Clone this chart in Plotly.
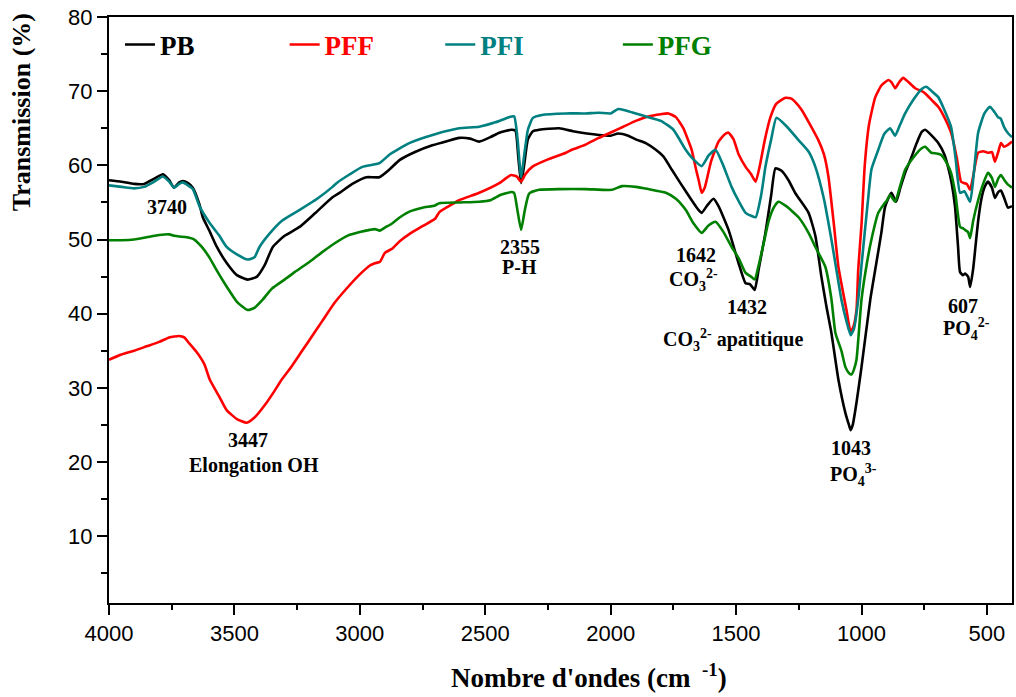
import plotly.graph_objects as go

# ---- FTIR spectra: wavenumber (cm-1) and transmission (%) ----
pb_wn = [4000, 3950, 3900, 3860, 3820, 3785, 3760, 3741, 3720, 3706, 3685, 3666, 3640, 3626,
         3600, 3570, 3530, 3490, 3447, 3410, 3380, 3347, 3300, 3240, 3180, 3109, 3081, 3030,
         2974, 2922, 2880, 2842, 2780, 2711, 2650, 2604, 2560, 2524, 2480, 2444, 2397, 2380,
         2368, 2357, 2345, 2330, 2310, 2285, 2206, 2150, 2115, 2047, 2000, 1970, 1930, 1900,
         1860, 1820, 1790, 1756, 1720, 1677, 1650, 1637, 1615, 1590, 1570, 1530, 1490, 1462,
         1445, 1426, 1410, 1383, 1360, 1343, 1320, 1291, 1263, 1211, 1184, 1160, 1140, 1120,
         1092, 1064, 1050, 1043, 1035, 1020, 1000, 965, 940, 921, 906, 881, 862, 845, 826,
         802, 780, 760, 746, 720, 694, 670, 655, 640, 627, 615, 607, 595, 587, 575, 567, 555,
         547, 535, 523, 510, 496, 480, 468, 455, 444, 430, 416, 400]
pb_t = [58.0, 57.8, 57.5, 57.5, 58.2, 58.8, 58.0, 57.0, 57.7, 57.9, 57.6, 57.0, 54.8, 53.0,
        51.2, 49.0, 46.8, 45.2, 44.6, 45.0, 46.5, 49.0, 50.5, 51.7, 53.5, 55.7, 56.3, 57.5,
        58.4, 58.4, 59.5, 60.7, 61.8, 62.7, 63.3, 63.7, 63.6, 63.2, 63.8, 64.4, 64.8, 64.7,
        61.0, 57.6, 60.0, 63.5, 64.6, 64.8, 65.0, 64.6, 64.4, 64.1, 64.0, 64.3, 64.0, 63.5,
        63.0, 62.1, 61.2, 59.4, 57.5, 55.3, 54.0, 53.6, 54.6, 55.5, 54.5, 51.3, 46.8, 44.1,
        44.0, 43.2, 46.0, 50.9, 56.0, 59.6, 59.3, 58.0, 56.2, 53.6, 50.5, 45.0, 41.0, 37.4,
        31.1, 26.6, 25.0, 24.3, 25.0, 28.0, 32.8, 41.9, 47.0, 50.9, 54.4, 56.3, 55.1, 57.0, 59.0,
        61.0, 63.0, 64.5, 64.8, 64.0, 63.0, 61.5, 59.8, 57.5, 54.4, 49.0, 45.6, 45.2, 45.4, 45.0,
        43.6, 46.0, 48.6, 52.5, 55.3, 57.0, 57.8, 57.0, 55.6, 56.4, 56.6, 55.5, 54.3, 54.5]

pff_wn = [4000, 3950, 3900, 3850, 3800, 3760, 3720, 3700, 3680, 3650, 3620, 3598, 3560, 3531,
          3490, 3451, 3420, 3372, 3340, 3312, 3270, 3230, 3200, 3150, 3100, 3050, 3000, 2960,
          2940, 2920, 2900, 2870, 2840, 2800, 2750, 2700, 2683, 2650, 2604, 2524, 2444, 2397,
          2375, 2357, 2340, 2313, 2250, 2178, 2155, 2100, 2047, 1995, 1950, 1900, 1850, 1800,
          1770, 1740, 1710, 1690, 1677, 1660, 1649, 1637, 1625, 1600, 1570, 1545, 1530, 1510,
          1490, 1462, 1440, 1422, 1405, 1385, 1363, 1340, 1303, 1280, 1260, 1239, 1210, 1172,
          1150, 1132, 1110, 1092, 1060, 1043, 1030, 1020, 1013, 1000, 987, 970, 945, 920, 893,
          880, 866, 850, 834, 815, 786, 760, 746, 720, 694, 670, 643, 620, 603, 590, 580, 567,
          555, 535, 515, 496, 480, 468, 455, 444, 432, 415, 400]
pff_t = [33.8, 34.5, 35.0, 35.6, 36.2, 36.8, 37.0, 36.8, 36.0, 34.8, 33.2, 31.1, 28.8, 27.0,
         25.8, 25.3, 26.0, 28.0, 29.6, 31.1, 33.0, 35.0, 36.5, 39.0, 41.5, 43.5, 45.3, 46.5,
         46.8, 47.0, 48.2, 48.8, 49.8, 50.8, 51.8, 52.8, 53.7, 54.4, 55.3, 56.3, 57.6, 58.7,
         58.5, 57.8, 58.8, 59.8, 60.8, 61.7, 62.1, 62.8, 63.7, 64.5, 65.2, 66.0, 66.6, 66.9,
         67.0, 66.5, 65.0, 63.3, 62.1, 59.5, 58.0, 56.3, 57.0, 60.5, 63.2, 64.2, 64.4, 63.5,
         61.5, 59.8, 58.8, 57.8, 60.0, 63.5, 66.5, 68.3, 69.1, 69.0, 68.4, 67.5, 65.8, 63.4,
         61.5, 58.5, 52.0, 46.3, 40.5, 37.5, 38.5, 40.5, 46.0, 52.0, 60.0, 65.5, 69.2, 70.8, 71.5,
         71.2, 70.4, 71.2, 71.8, 71.3, 70.4, 70.0, 69.7, 68.8, 67.9, 66.5, 64.4, 61.0, 57.8, 57.6,
         57.5, 56.7, 58.5, 61.7, 61.9, 61.7, 61.8, 60.5, 61.8, 63.0, 62.5, 62.8, 63.2]

pfi_wn = [4000, 3950, 3900, 3860, 3820, 3785, 3760, 3741, 3720, 3706, 3685, 3666, 3638, 3600,
          3560, 3531, 3490, 3447, 3420, 3400, 3360, 3308, 3240, 3170, 3109, 3093, 3040, 2990,
          2922, 2880, 2803, 2700, 2604, 2524, 2460, 2405, 2385, 2372, 2357, 2343, 2330, 2310,
          2274, 2178, 2100, 2047, 2000, 1970, 1940, 1900, 1850, 1800, 1750, 1701, 1670, 1637,
          1610, 1582, 1555, 1518, 1490, 1462, 1440, 1422, 1400, 1383, 1360, 1339, 1300, 1251,
          1210, 1184, 1150, 1120, 1080, 1060, 1043, 1030, 1013, 1000, 987, 975, 960, 933, 910,
          886, 866, 846, 826, 790, 760, 742, 720, 694, 670, 643, 625, 607, 590, 567, 552, 535,
          510, 488, 470, 456, 445, 432, 415, 400]
pfi_t = [57.3, 57.1, 56.9, 57.1, 57.8, 58.5, 57.8, 57.0, 57.5, 57.7, 57.3, 56.8, 54.4, 52.3,
         50.5, 49.0, 48.0, 47.3, 47.6, 49.0, 50.8, 52.6, 54.0, 55.5, 57.1, 57.6, 58.8, 59.8,
         60.3, 61.5, 63.0, 64.2, 65.0, 65.2, 65.8, 66.5, 66.6, 63.8, 58.4, 61.8, 64.8, 66.4,
         66.8, 67.0, 67.0, 67.1, 67.0, 67.6, 67.4, 67.0, 66.5, 66.0, 64.8, 62.1, 60.8, 59.9,
         61.3, 62.1, 60.3, 57.1, 55.2, 53.6, 53.2, 53.0, 56.0, 59.8, 63.5, 66.4, 65.3, 63.4,
         61.8, 59.8, 55.5, 50.0, 41.9, 39.0, 37.1, 38.0, 41.9, 46.5, 51.0, 55.0, 59.5, 62.1, 64.2,
         65.0, 64.0, 65.5, 67.0, 69.0, 70.3, 70.6, 70.0, 69.2, 67.5, 65.2, 61.0, 56.3, 56.5, 55.1,
         59.0, 64.4, 67.0, 67.9, 67.2, 66.5, 66.3, 65.2, 64.3, 63.8]

pfg_wn = [4000, 3950, 3900, 3850, 3800, 3760, 3740, 3720, 3690, 3660, 3630, 3600, 3570, 3530,
          3490, 3447, 3420, 3390, 3350, 3300, 3260, 3200, 3150, 3100, 3050, 3000, 2960, 2940,
          2920, 2900, 2870, 2840, 2800, 2750, 2700, 2683, 2600, 2524, 2480, 2440, 2397, 2385,
          2372, 2357, 2342, 2325, 2285, 2200, 2100, 1995, 1955, 1900, 1850, 1780, 1740, 1701,
          1670, 1637, 1610, 1582, 1550, 1518, 1490, 1462, 1440, 1426, 1410, 1390, 1370, 1350,
          1331, 1300, 1251, 1211, 1184, 1144, 1120, 1104, 1080, 1064, 1050, 1040, 1030, 1020,
          1000, 980, 961, 933, 910, 900, 886, 866, 846, 826, 790, 760, 746, 722, 700, 682, 660,
          643, 625, 607, 595, 587, 575, 567, 555, 535, 515, 496, 480, 468, 455, 444, 430, 416, 400]
pfg_t = [49.9, 49.9, 50.0, 50.3, 50.6, 50.7, 50.5, 50.4, 50.3, 50.0, 49.0, 47.6, 45.8, 43.6,
         41.6, 40.5, 40.8, 41.8, 43.4, 44.6, 45.6, 47.0, 48.3, 49.5, 50.5, 51.0, 51.3, 51.4,
         51.2, 51.6, 52.2, 53.0, 53.8, 54.3, 54.6, 54.9, 55.0, 55.1, 55.3, 56.0, 56.4, 56.3,
         54.0, 51.3, 54.0, 56.2, 56.7, 56.8, 56.8, 56.7, 57.2, 57.1, 56.8, 56.3, 55.5, 54.0,
         52.2, 50.9, 51.9, 52.4, 51.0, 49.0, 47.5, 45.5, 45.0, 44.6, 46.5, 49.5, 52.5, 54.3,
         55.1, 54.5, 53.0, 50.9, 49.0, 46.3, 42.0, 37.4, 35.0, 32.8, 32.0, 31.8, 32.5, 33.8,
         41.9, 46.5, 49.9, 53.6, 54.8, 55.2, 56.0, 55.1, 57.2, 59.4, 61.2, 62.3, 62.5, 61.7, 61.6,
         61.4, 60.3, 59.0, 56.0, 51.7, 51.5, 51.3, 51.0, 50.2, 52.5, 55.3, 57.5, 59.0, 58.3, 57.1,
         58.2, 58.7, 58.0, 57.4, 57.0]

series_names = ["PB", "PFF", "PFI", "PFG"]
series_colors = ["#000000", "#ff0000", "#008080", "#008000"]
series_data = [(pb_wn, pb_t), (pff_wn, pff_t), (pfi_wn, pfi_t), (pfg_wn, pfg_t)]

x_ticks = [4000, 3500, 3000, 2500, 2000, 1500, 1000, 500]
y_ticks = [10, 20, 30, 40, 50, 60, 70, 80]

# band assignments: (wavenumber position, transmission position, text)
band_labels = [
    (3769, 54.4, "3740"),
    (3447, 23.0, "3447"),
    (3423, 19.6, "Elongation OH"),
    (2360, 49.0, "2355"),
    (2365, 46.3, "P-H"),
    (1661, 47.9, "1642"),
    (1668, 44.6, "CO<sub>3</sub><sup>2-</sup>"),
    (1458, 40.9, "1432"),
    (1514, 36.5, "CO<sub>3</sub><sup>2-</sup> apatitique"),
    (1040, 21.9, "1043"),
    (1033, 18.3, "PO<sub>4</sub><sup>3-</sup>"),
    (595, 41.0, "607"),
    (583, 38.0, "PO<sub>4</sub><sup>2-</sup>"),
]

W, H = 1016, 697
ML, MR, MT, MB = 109, 2, 17, 94
PW, PH = W - ML - MR, H - MT - MB


def px_x(px):
    return (px - ML) / PW


def px_y(py):
    return (H - MB - py) / PH


serif = "Liberation Serif, Times New Roman, serif"
sans = "Liberation Sans, Arial, sans-serif"

fig = go.Figure()
legend_ids = ["legend", "legend2", "legend3", "legend4"]
legend_px = [120, 285, 441, 619]
for (wn, t), name, color, lid in zip(series_data, series_names, series_colors, legend_ids):
    fig.add_trace(go.Scatter(
        x=wn, y=t, mode="lines", name=name, legend=lid,
        line=dict(color=color, width=2.6, shape="spline", smoothing=0.5),
    ))

legend_layout = {}
for lid, lx, color in zip(legend_ids, legend_px, series_colors):
    legend_layout[lid] = dict(
        x=px_x(lx), y=px_y(45), xanchor="left", yanchor="middle",
        bgcolor="rgba(0,0,0,0)", borderwidth=0,
        font=dict(family=serif, size=27, color=color, weight="bold"),
        itemwidth=30,
    )

for x, y, txt in band_labels:
    fig.add_annotation(
        x=x, y=y, xref="x", yref="y", text=txt, showarrow=False,
        font=dict(family=serif, size=20, color="black", weight="bold"),
        xanchor="center", yanchor="middle",
    )

fig.add_annotation(
    x=px_x(22), y=px_y(112), xref="paper", yref="paper",
    text="Transmission (%)", textangle=-90, showarrow=False,
    font=dict(family=serif, size=26, color="black", weight="bold"),
    xanchor="center", yanchor="middle",
)
fig.add_annotation(
    x=px_x(590), y=px_y(676), xref="paper", yref="paper",
    text="Nombre d'ondes (cm <sup> -1</sup>)", showarrow=False,
    font=dict(family=serif, size=27, color="black", weight="bold"),
    xanchor="center", yanchor="middle",
)

axis_common = dict(
    showgrid=False, zeroline=False, showline=True, linecolor="black", linewidth=2,
    mirror=True, ticks="outside", ticklen=10, tickwidth=2, tickcolor="black",
    tickfont=dict(family=sans, size=22, color="black"),
)

fig.update_layout(
    width=W, height=H,
    margin=dict(l=ML, r=MR, t=MT, b=MB),
    paper_bgcolor="white", plot_bgcolor="white",
    showlegend=True,
    xaxis=dict(range=[4000, 400], tickvals=x_ticks,
               minor=dict(ticks="outside", ticklen=5, tickwidth=2, tickcolor="black",
                          dtick=250, tick0=0),
               **axis_common),
    yaxis=dict(range=[1, 80], tickvals=y_ticks,
               minor=dict(ticks="outside", ticklen=6, tickwidth=2, tickcolor="black",
                          dtick=5, tick0=0),
               **axis_common),
    **legend_layout,
)

fig.write_html("out.html")
